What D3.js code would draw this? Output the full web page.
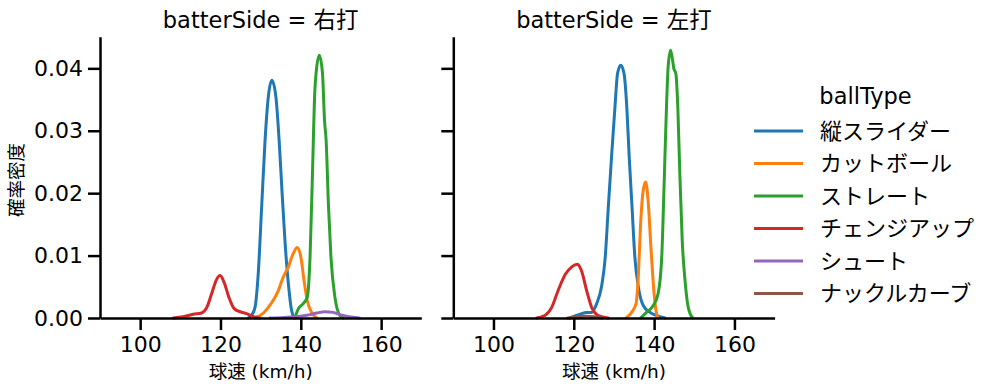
<!DOCTYPE html>
<html><head><meta charset="utf-8">
<script src="https://cdn.jsdelivr.net/npm/d3@7"></script>
<style>
body{margin:0;background:#fff;}
text{font-family:"DejaVu Sans","Noto Sans CJK JP",sans-serif;fill:#000;}
</style></head>
<body><svg id="c" width="999" height="391"></svg>
<script>
const ballTypes = ["縦スライダー","カットボール","ストレート","チェンジアップ","シュート","ナックルカーブ"];
const ballColors = ["#1f77b4","#ff7f0e","#2ca02c","#d62728","#9467bd","#8c564b"];
const panels = ["右打","左打"];
const xTicks = [100,120,140,160];
const yTicks = [0,0.01,0.02,0.03,0.04];

// 右打
const R_slider_x = [126.9,127.8,128.6,129.4,130.25,131.1,131.9,132.8,133.8,134.6,135.3,136.05,136.9,137.7,138.4];
const R_slider_y = [0,0.0005,0.0017,0.0071,0.0178,0.0285,0.0354,0.0381,0.0354,0.0285,0.0205,0.0124,0.0055,0.0012,0];
const R_cutter_x = [128.6,130.7,131.9,133.1,134.4,135.6,136.9,138.1,139.1,140.0,140.8,141.6,142.7,143.9];
const R_cutter_y = [0,0.0008,0.0017,0.0028,0.0044,0.0065,0.0082,0.0103,0.0113,0.0098,0.006,0.0028,0.0009,0];
const R_straight_x = [138.5,139.4,140.6,141.6,142.3,142.9,143.5,143.8,144.6,145.4,145.9,146.3,146.9,147.5,148.5,149.7,150.5];
const R_straight_y = [0,0.0015,0.0023,0.0033,0.0098,0.0231,0.0365,0.0392,0.0421,0.0392,0.0317,0.0285,0.0178,0.0098,0.0033,0.0004,0];
const R_change_x = [108.25,110.7,113.2,115.3,116.6,117.8,118.9,119.9,120.9,122.1,123.4,124.9,126.5,128.2,129.8];
const R_change_y = [0,0.0002,0.0006,0.0008,0.0017,0.0039,0.006,0.0068,0.0057,0.0033,0.0015,0.001,0.0007,0.0002,0];
const R_shoot_x = [132.3,136,140,142,144,146,148,150,152,154.6];
const R_shoot_y = [0,0.0001,0.0003,0.0005,0.0008,0.001,0.0009,0.0005,0.0002,0];

// 左打
const L_slider_x = [119.05,121.5,123.2,124.45,125.7,126.9,127.8,128.6,129.4,130.25,130.9,131.7,132.5,133.2,133.8,134.5,135.2,136.1,137.3,139.0,140.6,142.7];
const L_slider_y = [0,0.0006,0.0009,0.0009,0.0023,0.005,0.0095,0.0178,0.0258,0.0338,0.0392,0.0405,0.0392,0.0338,0.0258,0.0178,0.0098,0.0049,0.002,0.0009,0.0004,0];
const L_cutter_x = [133.0,134.4,135.5,136.1,136.6,137.3,137.9,138.5,139.2,140.0,140.6,141.0];
const L_cutter_y = [0,0.0009,0.0023,0.0071,0.0146,0.0205,0.0218,0.0189,0.0114,0.0039,0.0007,0];
const L_straight_x = [136.65,138.1,139.8,141.0,141.9,142.45,142.95,143.5,144.1,144.6,144.9,145.4,145.9,146.4,147.0,147.7,148.5,149.6];
const L_straight_y = [0,0.0009,0.002,0.0039,0.0098,0.0205,0.0312,0.0403,0.0429,0.0413,0.04,0.0392,0.0338,0.0231,0.0124,0.006,0.0017,0];
const L_change_x = [110.75,112.8,114.5,116.1,117.9,119.5,120.9,122.0,123.2,124.45,126.1,128.6];
const L_change_y = [0,0.0004,0.0017,0.0044,0.007,0.0082,0.0086,0.0074,0.0044,0.0017,0.0004,0];
const L_knuckle_x = [118.5,121,123,125,127];
const L_knuckle_y = [0,0.0002,0.0003,0.0002,0];

const curves = {
  "右打": [[R_slider_x,R_slider_y,0],[R_cutter_x,R_cutter_y,1],[R_straight_x,R_straight_y,2],[R_change_x,R_change_y,3],[R_shoot_x,R_shoot_y,4]],
  "左打": [[L_slider_x,L_slider_y,0],[L_cutter_x,L_cutter_y,1],[L_straight_x,L_straight_y,2],[L_change_x,L_change_y,3],[L_knuckle_x,L_knuckle_y,5]]
};

const svg = d3.select("#c");
const panelLeft = [100, 453.3];
const panelW = 321.3;
const y = d3.scaleLinear().domain([0,0.04507]).range([318,36.7]);

panels.forEach((p,i)=>{
  const x0 = panelLeft[i];
  const x = d3.scaleLinear().domain([90,170]).range([x0, x0+panelW]);
  const g = svg.append("g");
  const line = d3.line().x(d=>x(d[0])).y(d=>y(d[1])).curve(d3.curveMonotoneX);
  curves[p].forEach(([xs,ys,ci])=>{
    const pts = xs.map((v,k)=>[v,ys[k]]);
    g.append("path").attr("d",line(pts)).attr("fill","none")
      .attr("stroke",ballColors[ci]).attr("stroke-width",3).attr("stroke-linejoin","round").attr("stroke-linecap","round");
  });
  const ax = g.append("g").attr("transform",`translate(0,${y(0)})`)
    .call(d3.axisBottom(x).tickValues(xTicks).tickSize(12).tickSizeOuter(0).tickPadding(6));
  const ay = g.append("g").attr("transform",`translate(${x0},0)`)
    .call(d3.axisLeft(y).tickValues(yTicks).tickSize(12).tickSizeOuter(0).tickPadding(5)
      .tickFormat(i===0 ? d3.format(".2f") : ""));
  [ax,ay].forEach(a=>{
    a.selectAll("path.domain").attr("stroke","#000").attr("stroke-width",2.5);
    a.selectAll(".tick line").attr("stroke","#000").attr("stroke-width",2.5);
    a.selectAll(".tick text").attr("font-size",22).attr("fill","#000")
      .style("font-family","'DejaVu Sans','Noto Sans CJK JP',sans-serif");
  });
  g.append("text").attr("x",x0+panelW/2).attr("y",28).attr("text-anchor","middle")
    .attr("font-size",22.5).text("batterSide = "+p);
  g.append("text").attr("x",x0+panelW/2).attr("y",378).attr("text-anchor","middle")
    .attr("font-size",18.5).text("球速 (km/h)");
});

svg.append("text").attr("transform","translate(23,180) rotate(-90)").attr("text-anchor","middle")
  .attr("font-size",18.5).text("確率密度");

// legend
const lg = svg.append("g");
lg.append("text").attr("x",865.5).attr("y",104).attr("text-anchor","middle").attr("font-size",22.5).text("ballType");
ballTypes.forEach((b,i)=>{
  const yy = 131 + i*32.5;
  lg.append("line").attr("x1",754).attr("x2",803).attr("y1",yy).attr("y2",yy)
    .attr("stroke",ballColors[i]).attr("stroke-width",3);
  lg.append("text").attr("x",820).attr("y",yy).attr("dy","0.35em").attr("font-size",22).text(b);
});
</script></body></html>
